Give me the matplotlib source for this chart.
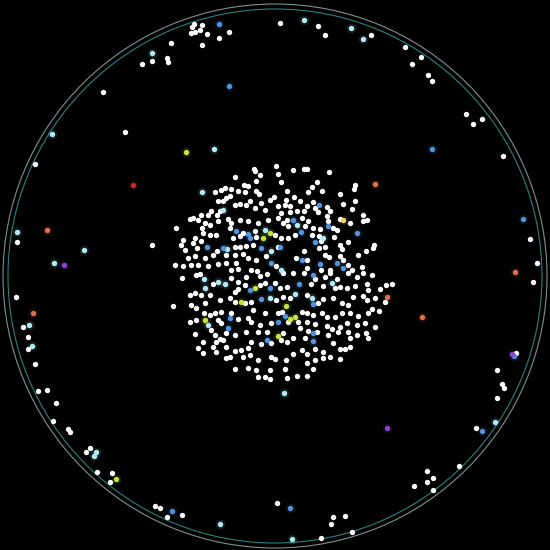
import matplotlib
matplotlib.use("Agg")
import matplotlib.pyplot as plt
from matplotlib.patches import Circle

# positions, in a plane centred on the disc (rim radius ~270)
core_white = [
    (1, 109), (-21, 106), (-20, 104), (3, 101), (-15, 100), (-40, 98), (-19, 94), (6, 93), (-31, 90), (-27, 89),
    (-60, 83), (-54, 85), (-50, 87), (-44, 86), (-37, 84), (-30, 83), (-19, 84), (-16, 81), (-45, 79), (-49, 77),
    (-57, 74), (-52, 74), (-25, 74), (-1, 78), (-5, 75), (-40, 70), (-35, 71), (-29, 70), (-20, 67), (-14, 72),
    (-10, 65), (3, 69), (-55, 64), (-64, 64), (-74, 60), (-82, 57), (-85, 56), (-77, 55), (-67, 60), (-58, 60),
    (-47, 56), (-70, 52), (-65, 50), (-73, 47), (-57, 54), (-44, 52), (-35, 55), (-27, 54), (-17, 52), (-7, 55),
    (3, 57), (6, 62), (-99, 47), (-45, 47), (-35, 39), (-32, 42), (-20, 44), (0, 40), (6, 37), (-19, 38),
    (-42, 37), (-72, 42), (-65, 40), (-59, 40), (-80, 37), (-92, 35), (-94, 30), (-82, 32), (-74, 34), (-40, 28),
    (-35, 28), (-29, 29), (-22, 30), (3, 28), (-78, 27), (-90, 25), (-62, 20), (-58, 24), (-49, 20), (-40, 20),
    (-32, 21), (-27, 17), (-19, 15), (-9, 19), (-87, 17), (-80, 19), (-70, 17), (-100, 10), (-92, 9), (-84, 10),
    (-77, 10), (-67, 9), (-57, 11), (-49, 12), (-39, 12), (1, 9), (-44, 5), (-37, 6), (-24, 5), (-18, 4),
    (18, 105), (29, 106), (32, 106), (54, 103), (80, 90), (79, 86), (42, 93), (37, 88), (33, 83), (12, 84),
    (47, 84), (65, 81), (19, 78), (11, 75), (25, 74), (38, 73), (68, 71), (80, 74), (10, 70), (15, 69),
    (32, 69), (40, 67), (52, 68), (77, 66), (15, 63), (22, 64), (29, 64), (43, 63), (55, 64), (88, 60),
    (12, 55), (27, 57), (33, 54), (52, 59), (53, 54), (65, 56), (75, 52), (88, 54), (92, 55), (8, 52),
    (13, 49), (30, 49), (38, 47), (45, 46), (58, 47), (62, 45), (13, 37), (20, 40), (37, 40), (44, 39),
    (59, 38), (73, 33), (46, 34), (65, 30), (29, 24), (44, 27), (50, 28), (67, 26), (83, 20), (91, 24),
    (98, 27), (99, 30), (21, 17), (32, 15), (50, 20), (54, 18), (65, 19), (68, 15), (73, 10), (32, 7),
    (46, 5), (55, 5), (77, 5), (87, 8),
    (-93, -3), (-79, 0), (-75, 1), (-62, -9), (-44, -3), (-37, -7), (-29, -2), (-15, -1), (-8, 1), (-37, -14),
    (-40, -17), (-30, -10), (-15, -10), (-10, -8), (0, -8), (5, -13), (-85, -20), (-80, -18), (-74, -20), (-65, -20),
    (-55, -25), (-45, -23), (-40, -27), (-30, -28), (-24, -27), (1, -25), (-102, -31), (-84, -30), (-79, -33), (-70, -28),
    (-71, -38), (-65, -40), (-54, -37), (-60, -38), (-44, -38), (-22, -35), (-10, -38), (3, -38), (-85, -47), (-79, -45),
    (-57, -45), (-54, -48), (-37, -44), (-27, -43), (-24, -47), (-15, -50), (-4, -48), (-80, -59), (-64, -55), (-60, -60),
    (-55, -64), (-49, -58), (-40, -60), (-29, -57), (-17, -57), (-8, -57), (6, -65), (-72, -67), (-59, -67), (-52, -65),
    (-24, -67), (-14, -69), (-4, -68), (-77, -73), (-72, -78), (-62, -72), (-59, -77), (-49, -72), (-40, -76), (-34, -75),
    (-27, -73), (-25, -80), (-45, -82), (-49, -83), (-32, -82), (-17, -85), (-4, -82), (0, -84), (-40, -94), (-27, -93),
    (-19, -95), (-5, -95), (-17, -102), (-10, -102), (-5, -104),
    (8, 2), (18, 2), (29, 2), (40, -4), (50, -2), (55, 2), (62, -4), (73, 2), (82, -2), (88, 2),
    (97, 0), (12, -12), (36, -9), (48, -11), (60, -13), (65, -12), (72, -13), (80, -11), (92, -9), (93, -15),
    (105, -14), (111, -10), (117, -9), (110, -27), (8, -22), (15, -23), (32, -20), (43, -28), (48, -24), (58, -23),
    (67, -28), (73, -30), (78, -22), (88, -21), (92, -25), (100, -23), (7, -37), (13, -47), (27, -37), (32, -38),
    (38, -40), (47, -38), (52, -42), (60, -42), (67, -38), (75, -38), (83, -41), (93, -38), (97, -34), (104, -36),
    (8, -58), (23, -47), (32, -47), (40, -49), (52, -51), (57, -54), (65, -52), (72, -48), (82, -50), (90, -48),
    (100, -52), (25, -53), (33, -56), (42, -57), (53, -60), (63, -57), (73, -57), (75, -63), (82, -60), (91, -58),
    (93, -63), (12, -67), (18, -63), (30, -63), (27, -75), (18, -79), (32, -79), (40, -74), (48, -77), (58, -68),
    (65, -74), (70, -74), (75, -72), (11, -85), (32, -88), (40, -85), (48, -83), (55, -82), (65, -84), (38, -94),
    (10, -94), (22, -101), (32, -101), (12, -103),
]

rim_white = [
    (-83, 248), (-81, 251), (-73, 250), (-84, 242), (-80, 243), (-75, 245), (-68, 241), (-46, 243), (-56, 237),
    (-104, 232), (-73, 230), (-123, 214), (-133, 211), (-108, 217), (-107, 213), (-172, 183), (-150, 143),
    (-240, 111), (-258, 33), (-123, 30),
    (5, 252), (43, 249), (50, 240), (96, 240), (130, 228), (146, 218), (137, 211), (153, 200), (157, 194),
    (191, 161), (198, 151), (207, 156), (228, 119), (255, 36), (262, 12),
    (-259, -22), (-252, -52), (-247, -62), (-247, -74), (-240, -89), (-237, -116), (-228, -115), (-219, -128),
    (-222, -146), (-207, -154), (-205, -157), (-189, -177), (-185, -173), (-178, -197), (-163, -198), (-165, -207),
    (-120, -231), (-115, -233), (-108, -242), (-93, -240),
    (258, -7), (241, -78), (222, -95), (227, -109), (229, -113), (222, -123), (201, -153), (184, -191),
    (152, -196), (158, -203), (152, -207), (139, -211), (158, -215), (2, -228), (58, -242), (70, -241),
    (56, -249), (77, -257), (46, -263),
]

cyan_pts = [
    (-73, 83), (-52, 65), (-10, 45), (-48, 26), (-4, 24), (6, 5), (22, 50), (48, 37), (-71, -4), (-57, -7),
    (-50, -9), (-70, -13), (-5, -23), (-67, -50), (57, -8), (20, -19), (37, -23), (9, -118),
    (-123, 222), (-223, 141), (-61, 126), (-258, 43), (-191, 25), (-221, 12), (29, 255), (76, 247), (88, 236),
    (-246, -50), (-243, -71), (-179, -177), (-181, -181), (-55, -249), (220, -147), (17, -264),
]

blue_pts = [
    (-39, 44), (-27, 41), (-25, 37), (-68, 28), (-52, 27), (-14, 27), (-4, 12), (44, 70), (18, 55), (53, 49),
    (82, 42), (26, 43), (40, 33), (5, 28), (27, 15), (45, 11), (62, 12), (68, 7), (-25, -15), (-5, -13),
    (-14, -24), (-45, -43), (3, -47), (-47, -53), (-8, -65), (38, 0), (24, -9), (38, -29), (10, -41), (38, -58),
    (38, -66),
    (-56, 251), (-46, 189), (157, 126), (248, 56), (-103, -236), (239, -81), (207, -156), (15, -233),
]

green_pts = [
    (-12, 37), (-5, 42), (-20, -13), (-34, -27), (-70, -45), (3, -61), (11, -31), (15, -44), (20, -42),
    (-89, 123), (-159, -204),
]
yellow_pts = [(68, 55)]
orange_pts = [(100, 91), (112, -22), (147, -42), (240, 3), (-228, 45), (-242, -38)]
red_pts = [(-142, 90)]
purple_pts = [(-211, 10), (237, -79), (112, -153)]

rim_radii = [272, 267]
rim_colors = ["#7f9090", "#2a8081"]

groups = [
    (core_white + rim_white, "#ffffff"),
    (cyan_pts, "#b3eaf2"),
    (blue_pts, "#5592dc"),
    (green_pts, "#c3e43c"),
    (yellow_pts, "#ecd567"),
    (orange_pts, "#e0714a"),
    (red_pts, "#cf2a26"),
    (purple_pts, "#8a45cc"),
]

fig = plt.figure(figsize=(5.5, 5.5), dpi=100, facecolor="black")
ax = fig.add_axes([0, 0, 1, 1])
ax.set_facecolor("black")

for r, c in zip(rim_radii, rim_colors):
    ax.add_patch(Circle((0, -1), r, fill=False, edgecolor=c, linewidth=0.8))

for pts, color in groups:
    xs = [p[0] for p in pts]
    ys = [p[1] for p in pts]
    if color != "#ffffff":
        # faint glow behind the coloured dots
        ax.scatter(xs, ys, s=50, color=color, alpha=0.12, linewidths=0, zorder=2)
    ax.scatter(xs, ys, s=15, color=color, linewidths=0, zorder=3)

ax.set_xlim(-275, 275)
ax.set_ylim(-275, 275)
ax.set_aspect("equal")
ax.axis("off")

fig.savefig("out.png", dpi=100, facecolor="black")
